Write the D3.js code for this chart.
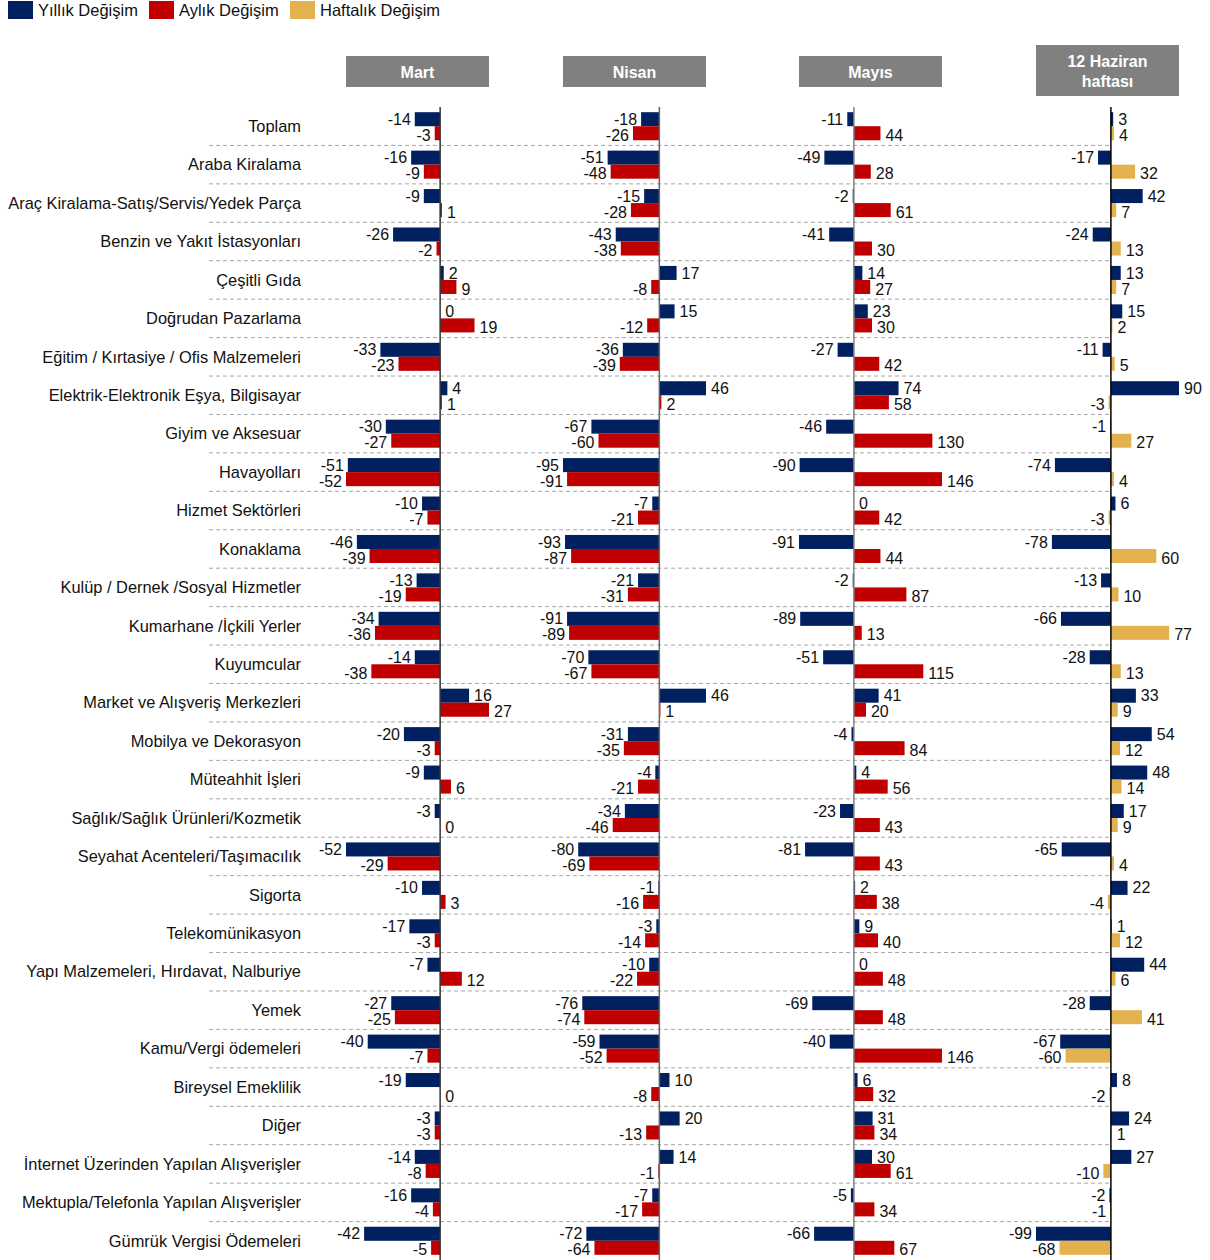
<!DOCTYPE html>
<html>
<head>
<meta charset="utf-8">
<script src="https://cdn.jsdelivr.net/npm/d3@7"></script>
<style>
  body { margin: 0; background: #fff; }
  text { font-family: "Liberation Sans", Arial, sans-serif; }
</style>
</head>
<body>
<div id="chart"></div>
<script>
// Kategoriler (satırlar)
const categories = [
  "Toplam", "Araba Kiralama", "Araç Kiralama-Satış/Servis/Yedek Parça",
  "Benzin ve Yakıt İstasyonları", "Çeşitli Gıda", "Doğrudan Pazarlama",
  "Eğitim / Kırtasiye / Ofis Malzemeleri", "Elektrik-Elektronik Eşya, Bilgisayar",
  "Giyim ve Aksesuar", "Havayolları", "Hizmet Sektörleri", "Konaklama",
  "Kulüp / Dernek /Sosyal Hizmetler", "Kumarhane /İçkili Yerler", "Kuyumcular",
  "Market ve Alışveriş Merkezleri", "Mobilya ve Dekorasyon", "Müteahhit İşleri",
  "Sağlık/Sağlık Ürünleri/Kozmetik", "Seyahat Acenteleri/Taşımacılık", "Sigorta",
  "Telekomünikasyon", "Yapı Malzemeleri, Hırdavat, Nalburiye", "Yemek",
  "Kamu/Vergi ödemeleri", "Bireysel Emeklilik", "Diğer",
  "İnternet Üzerinden Yapılan Alışverişler", "Mektupla/Telefonla Yapılan Alışverişler",
  "Gümrük Vergisi Ödemeleri"
];

// Mart
const martYillik = [-14, -16, -9, -26, 2, 0, -33, 4, -30, -51, -10, -46, -13, -34, -14, 16, -20, -9, -3, -52, -10, -17, -7, -27, -40, -19, -3, -14, -16, -42];
const martAylik  = [-3, -9, 1, -2, 9, 19, -23, 1, -27, -52, -7, -39, -19, -36, -38, 27, -3, 6, 0, -29, 3, -3, 12, -25, -7, 0, -3, -8, -4, -5];
// Nisan
const nisanYillik = [-18, -51, -15, -43, 17, 15, -36, 46, -67, -95, -7, -93, -21, -91, -70, 46, -31, -4, -34, -80, -1, -3, -10, -76, -59, 10, 20, 14, -7, -72];
const nisanAylik  = [-26, -48, -28, -38, -8, -12, -39, 2, -60, -91, -21, -87, -31, -89, -67, 1, -35, -21, -46, -69, -16, -14, -22, -74, -52, -8, -13, -1, -17, -64];
// Mayıs
const mayisYillik = [-11, -49, -2, -41, 14, 23, -27, 74, -46, -90, 0, -91, -2, -89, -51, 41, -4, 4, -23, -81, 2, 9, 0, -69, -40, 6, 31, 30, -5, -66];
const mayisAylik  = [44, 28, 61, 30, 27, 30, 42, 58, 130, 146, 42, 44, 87, 13, 115, 20, 84, 56, 43, 43, 38, 40, 48, 48, 146, 32, 34, 61, 34, 67];
// 12 Haziran haftası
const haziranYillik    = [3, -17, 42, -24, 13, 15, -11, 90, -1, -74, 6, -78, -13, -66, -28, 33, 54, 48, 17, -65, 22, 1, 44, -28, -67, 8, 24, 27, -2, -99];
const haziranHaftalik  = [4, 32, 7, 13, 7, 2, 5, -3, 27, 4, -3, 60, 10, 77, 13, 9, 12, 14, 9, 4, -4, 12, 6, 41, -60, -2, 1, -10, -1, -68];

const legendItems = ["Yıllık Değişim", "Aylık Değişim", "Haftalık Değişim"];

const colors = { yillik: "#002060", aylik: "#c00000", haftalik: "#e3b24f" };

const panels = [
  { title: ["Mart"], left: 346, a: martYillik, b: martAylik, bColor: colors.aylik, axis: "#333" },
  { title: ["Nisan"], left: 563, a: nisanYillik, b: nisanAylik, bColor: colors.aylik, axis: "#666" },
  { title: ["Mayıs"], left: 799, a: mayisYillik, b: mayisAylik, bColor: colors.aylik, axis: "#808080" },
  { title: ["12 Haziran", "haftası"], left: 1036, a: haziranYillik, b: haziranHaftalik, bColor: colors.haftalik, axis: "#000" }
];

const width = 1210, height = 1260;
const panelWidth = 143;

const svg = d3.select("#chart").append("svg")
  .attr("width", width)
  .attr("height", height);

// Lejant
const legendColors = [colors.yillik, colors.aylik, colors.haftalik];
const legendX = [8, 149, 290];
legendItems.forEach((name, i) => {
  svg.append("rect")
    .attr("x", legendX[i]).attr("y", 1)
    .attr("width", 25).attr("height", 18)
    .attr("fill", legendColors[i]);
  svg.append("text")
    .attr("x", legendX[i] + 30).attr("y", 10)
    .attr("dy", "0.35em")
    .style("font-size", "16.5px")
    .attr("fill", "#111")
    .text(name);
});

// Satır ölçeği
const y = d3.scaleBand()
  .domain(categories)
  .range([107, 1260])
  .paddingInner(0.27)
  .paddingOuter(0.135);

const sub = d3.scaleBand()
  .domain(["a", "b"])
  .range([0, y.bandwidth()]);

const step = y.step();

// Kesikli ayırıcı çizgiler
svg.append("g").selectAll("line")
  .data(categories.slice(0, -1))
  .enter().append("line")
  .attr("x1", 209).attr("x2", 1110)
  .attr("y1", d => y(d) + y.bandwidth() / 2 + step / 2)
  .attr("y2", d => y(d) + y.bandwidth() / 2 + step / 2)
  .attr("stroke", "#a6a6a6")
  .attr("stroke-width", 1)
  .attr("stroke-dasharray", "4,3");

// Satır etiketleri
svg.append("g").selectAll("text")
  .data(categories)
  .enter().append("text")
  .attr("x", 301)
  .attr("y", d => y(d) + y.bandwidth() / 2)
  .attr("dy", "0.35em")
  .attr("text-anchor", "end")
  .style("font-size", "16.4px")
  .attr("fill", "#111")
  .text(d => d);

// Paneller
panels.forEach(p => {
  const all = p.a.concat(p.b);
  const x = d3.scaleLinear()
    .domain([d3.min(all), d3.max(all)])
    .range([p.left, p.left + panelWidth]);

  const g = svg.append("g");

  // Başlık kutusu
  const boxH = p.title.length > 1 ? 51 : 31;
  const boxY = p.title.length > 1 ? 45 : 56;
  g.append("rect")
    .attr("x", p.left).attr("y", boxY)
    .attr("width", panelWidth).attr("height", boxH)
    .attr("fill", "#808080");
  p.title.forEach((t, i) => {
    g.append("text")
      .attr("x", p.left + panelWidth / 2)
      .attr("y", boxY + boxH / 2 + 1 + (i - (p.title.length - 1) / 2) * 20)
      .attr("dy", "0.35em")
      .attr("text-anchor", "middle")
      .style("font-size", "16px")
      .style("font-weight", "bold")
      .attr("fill", "#fff")
      .text(t);
  });

  const series = [
    { key: "a", values: p.a, color: colors.yillik, shift: 0 },
    { key: "b", values: p.b, color: p.bColor, shift: 2 }
  ];

  series.forEach(s => {
    const rows = categories.map((c, i) => ({ cat: c, v: s.values[i] }));

    g.append("g").selectAll("rect")
      .data(rows)
      .enter().append("rect")
      .attr("x", d => x(Math.min(0, d.v)))
      .attr("width", d => Math.abs(x(d.v) - x(0)))
      .attr("y", d => y(d.cat) + sub(s.key))
      .attr("height", sub.bandwidth())
      .attr("fill", s.color);

    g.append("g").selectAll("text")
      .data(rows)
      .enter().append("text")
      .attr("x", d => d.v < 0 ? x(d.v) - 4 : x(d.v) + 5)
      .attr("y", d => y(d.cat) + sub(s.key) + sub.bandwidth() / 2 + s.shift)
      .attr("dy", "0.35em")
      .attr("text-anchor", d => d.v < 0 ? "end" : "start")
      .style("font-size", "16px")
      .attr("fill", "#111")
      .text(d => d.v);
  });

  // Sıfır çizgisi
  g.append("line")
    .attr("x1", x(0)).attr("x2", x(0))
    .attr("y1", 107).attr("y2", 1260)
    .attr("stroke", p.axis)
    .attr("stroke-width", 1.5);
});
</script>
</body>
</html>
